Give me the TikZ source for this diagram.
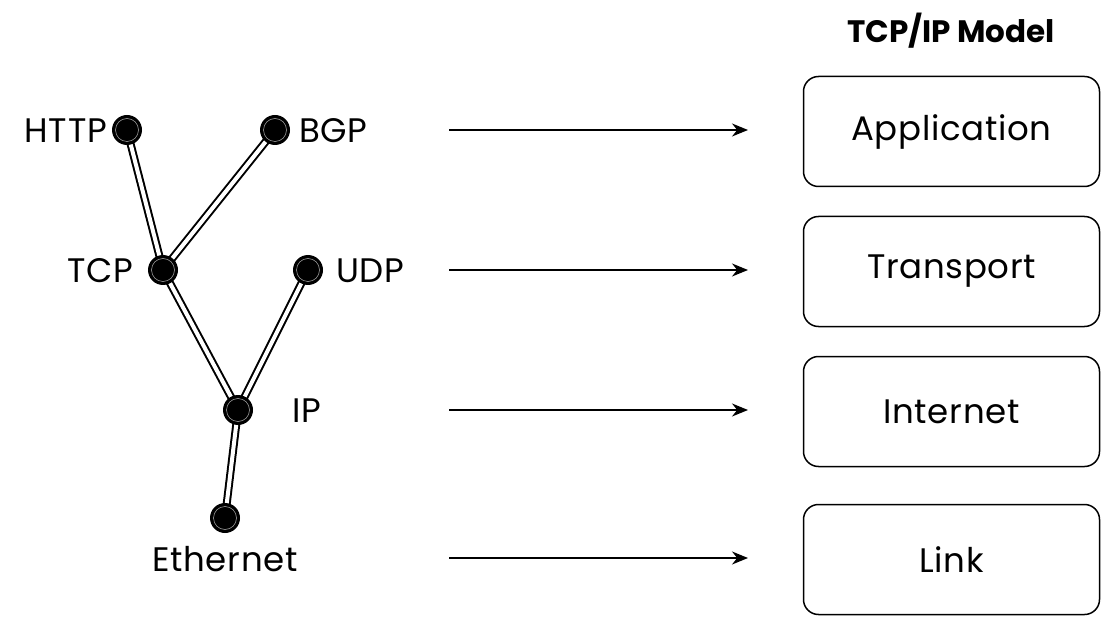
\documentclass[tikz,border=0pt]{standalone}
\usepackage{fontspec}
\setmainfont{Poppins}
\usetikzlibrary{arrows.meta}
\begin{document}
\begin{tikzpicture}[x=1pt,y=-1pt,
  dot/.style={circle,fill=black,minimum size=30pt,inner sep=0pt,
    path picture={\draw[gray!60,line width=0.5pt] (path picture bounding box.center) circle (11.5pt);}},
  lbl/.style={font=\fontsize{34}{38}\selectfont\addfontfeatures{LetterSpace=2},inner sep=0pt},
  link/.style={double=white,draw=black,line width=2pt,double distance=4pt},
  arr/.style={line width=1.8pt,-{Stealth[length=16pt,width=13pt]}},
  layer/.style={draw,line width=1.5pt,rounded corners=15pt,minimum width=296pt,minimum height=110pt,font=\fontsize{34}{38}\selectfont\addfontfeatures{LetterSpace=2}}
]
\useasboundingbox (0,0) rectangle (1102,617);
% links first
\coordinate (h) at (127,130);
\coordinate (b) at (275,130);
\coordinate (t) at (163,270);
\coordinate (u) at (308,270);
\coordinate (i) at (238,410);
\coordinate (e) at (225,518);
\draw[link] (h) -- (t);
\draw[link] (b) -- (t);
\draw[link] (t) -- (i);
\draw[link] (u) -- (i);
\draw[link] (i) -- (e);
\node[dot] (http) at (h) {};
\node[dot] (bgp) at (b) {};
\node[dot] (tcp) at (t) {};
\node[dot] (udp) at (u) {};
\node[dot] (ip) at (i) {};
\node[dot] (eth) at (e) {};
\node[lbl,anchor=east] (lhttp) at (107,131) {HTTP};
\node[lbl,anchor=west] (lbgp) at (299,131) {BGP};
\node[lbl,anchor=east] (ltcp) at (133,271) {TCP};
\node[lbl,anchor=west] (ludp) at (336,271) {UDP};
\node[lbl,anchor=west] (lip) at (292,411) {IP};
\node[lbl] (leth) at (225,559) {Ethernet};
% layers
\node[font=\fontsize{31}{34}\selectfont\bfseries,inner sep=0pt] (title) at (951,31) {TCP/IP Model};
\node[layer] (app) at (951.5,131.5) {Application};
\node[layer] (tr) at (951.5,271.5) {Transport};
\node[layer] (inet) at (951.5,411.5) {Internet};
\node[layer] (lnk) at (951.5,559.5) {Link};
% arrows
\coordinate (a1) at (449,130); \coordinate (b1) at (748,130);
\coordinate (a2) at (449,270); \coordinate (b2) at (748,270);
\coordinate (a3) at (449,410); \coordinate (b3) at (748,410);
\coordinate (a4) at (449,558); \coordinate (b4) at (748,558);
\draw[arr] (a1) -- (b1);
\draw[arr] (a2) -- (b2);
\draw[arr] (a3) -- (b3);
\draw[arr] (a4) -- (b4);
\end{tikzpicture}
\end{document}
